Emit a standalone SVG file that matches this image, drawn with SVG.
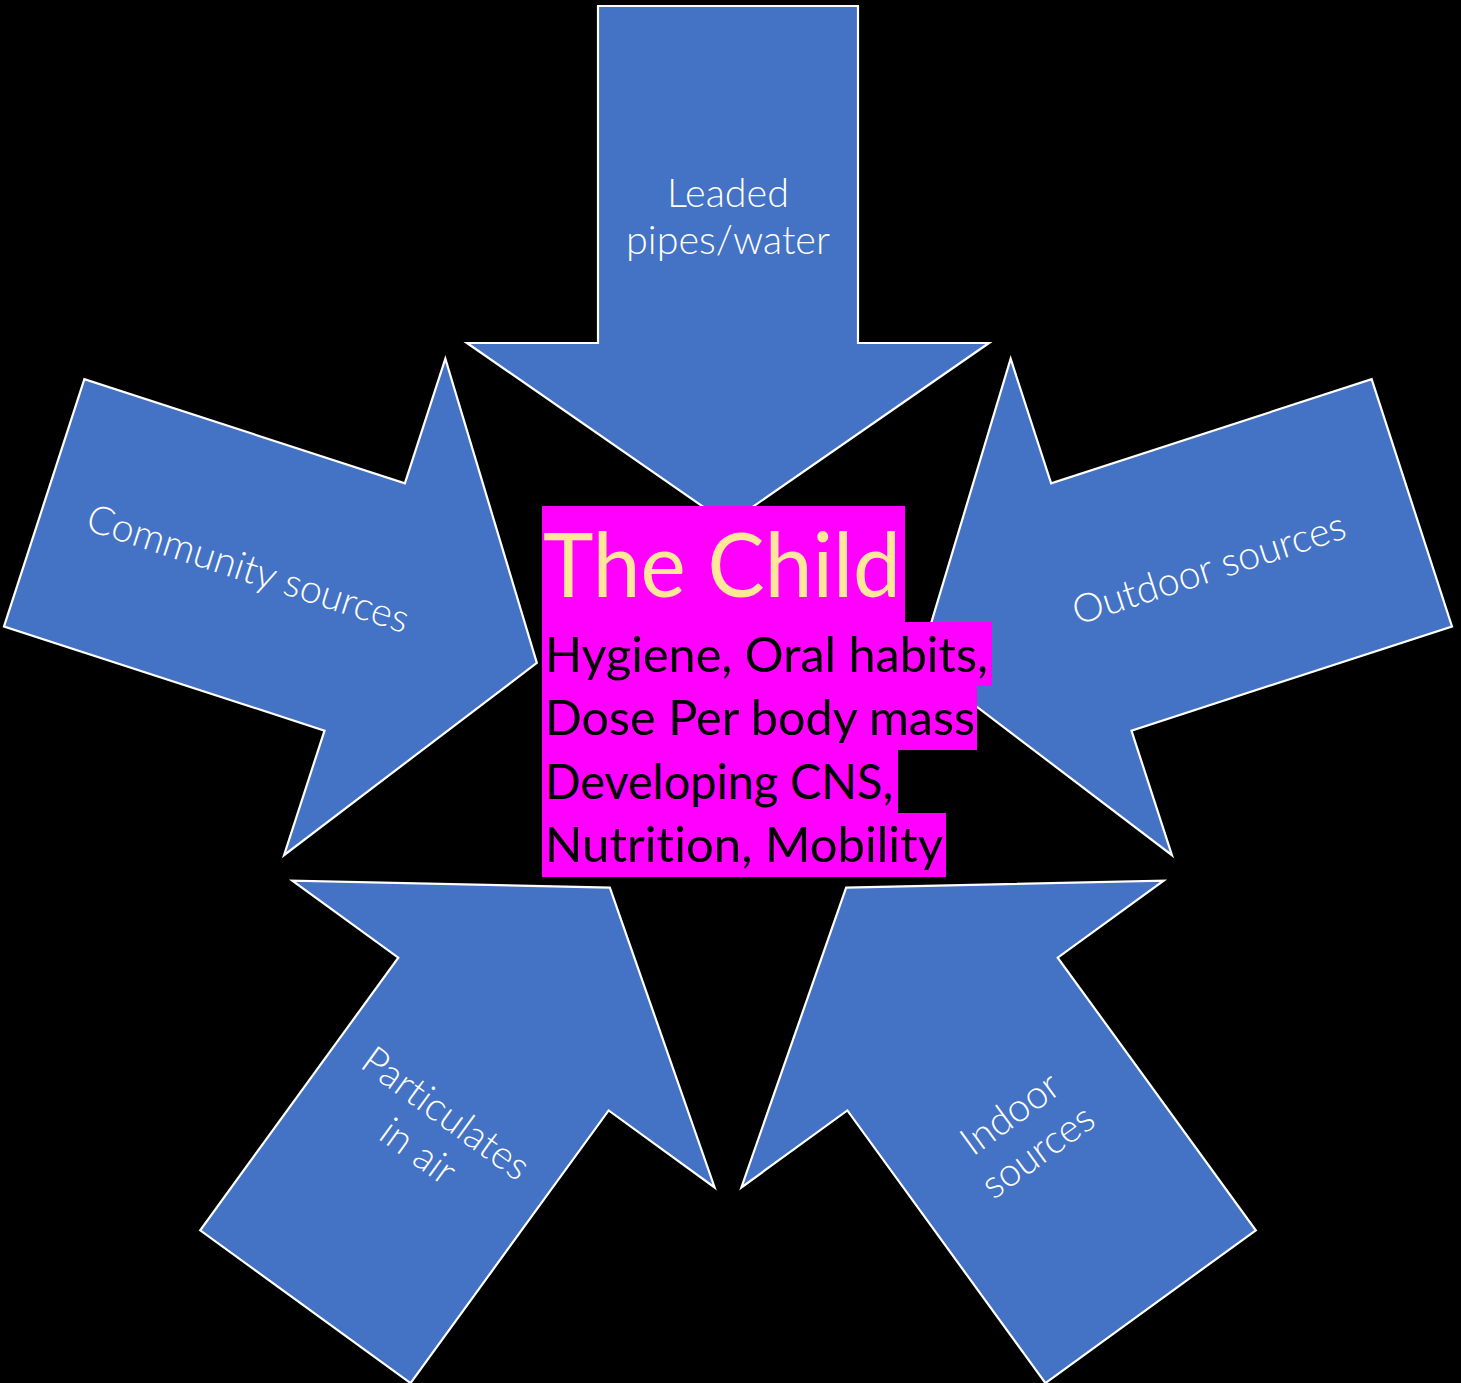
<svg xmlns="http://www.w3.org/2000/svg" width="1461" height="1383" viewBox="0 0 1461 1383">
  <style>
    text { font-variant-ligatures: none; }
    .arrow { fill: #4472C4; stroke: #FFFFFF; stroke-width: 2.2; stroke-linejoin: miter; }
    .lbl { font-family: Lato, "Open Sans", "Liberation Sans", sans-serif; font-weight: 300; font-size: 39.5px; fill: #FFFFFF; text-anchor: middle; }
    .hl { fill: #FF00FF; }
    .title { font-family: Lato, "Open Sans", "Liberation Sans", sans-serif; font-size: 89px; fill: #FFE699; }
    .body { font-family: Lato, "Open Sans", "Liberation Sans", sans-serif; font-size: 49px; fill: #000000; }
  </style>
  <defs>
    <polygon id="arrowShape" class="arrow" points="598,6 858,6 858,343 989,343 728,524 467,343 598,343"/>
  </defs>
  <rect x="0" y="0" width="1461" height="1383" fill="#000000"/>

  <g id="connectors"/>

  <g id="arrow-leaded">
    <use href="#arrowShape"/>
    <text class="lbl" x="728" y="207">Leaded</text>
    <text class="lbl" x="728" y="254">pipes/water</text>
  </g>

  <g id="arrow-community">
    <use href="#arrowShape" transform="rotate(-72 728 725)"/>
    <g transform="translate(248 569) rotate(18)">
      <text class="lbl" x="0" y="13">Community sources</text>
    </g>
  </g>

  <g id="arrow-outdoor">
    <use href="#arrowShape" transform="rotate(72 728 725)"/>
    <g transform="translate(1209 569) rotate(-18)">
      <text class="lbl" x="0" y="13">Outdoor sources</text>
    </g>
  </g>

  <g id="arrow-particulates">
    <use href="#arrowShape" transform="rotate(-144 728 725)"/>
    <g transform="translate(431 1134) rotate(36)">
      <text class="lbl" x="0" y="-12">Particulates</text>
      <text class="lbl" x="0" y="35">in air</text>
    </g>
  </g>

  <g id="arrow-indoor">
    <use href="#arrowShape" transform="rotate(144 728 725)"/>
    <g transform="translate(1025 1134) rotate(-36)">
      <text class="lbl" x="0" y="-12">Indoor</text>
      <text class="lbl" x="0" y="35">sources</text>
    </g>
  </g>

  <g id="the-child">
    <rect class="hl" x="542" y="506" width="363" height="117"/>
    <rect class="hl" x="542" y="622" width="450" height="64"/>
    <rect class="hl" x="542" y="685" width="435" height="65"/>
    <rect class="hl" x="542" y="749" width="356" height="65"/>
    <rect class="hl" x="542" y="813" width="404" height="64"/>
    <text class="title" x="543" y="597" textLength="358" lengthAdjust="spacingAndGlyphs">The Child</text>
    <text class="body" x="545" y="672" textLength="443" lengthAdjust="spacingAndGlyphs">Hygiene, Oral habits,</text>
    <text class="body" x="545" y="735" textLength="430" lengthAdjust="spacingAndGlyphs">Dose Per body mass</text>
    <text class="body" x="545" y="799" textLength="348" lengthAdjust="spacingAndGlyphs">Developing CNS,</text>
    <text class="body" x="545" y="862" textLength="398" lengthAdjust="spacingAndGlyphs">Nutrition, Mobility</text>
  </g>
</svg>
